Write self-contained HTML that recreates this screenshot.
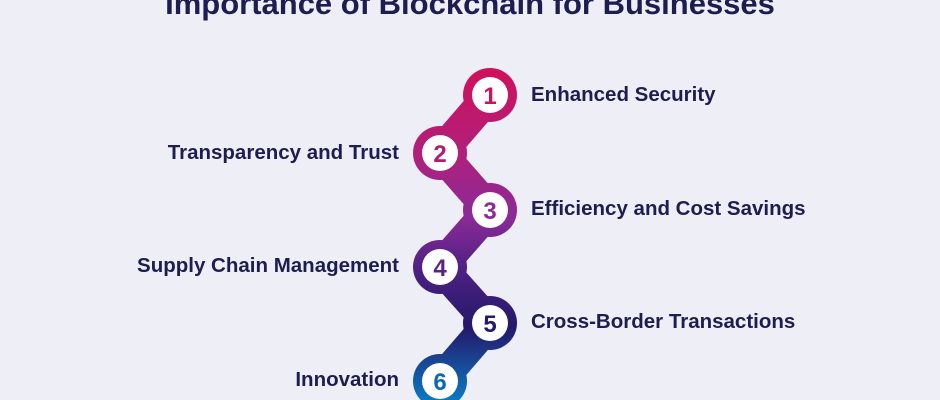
<!DOCTYPE html>
<html><head><style>
html,body{margin:0;padding:0}
body{width:940px;height:400px;background:#eeeef6;overflow:hidden;position:relative;font-family:"Liberation Sans",sans-serif}
.t{position:absolute;font-weight:bold;color:#1e1d4f;white-space:nowrap;font-size:20.5px}
</style></head><body>
<div class="t" style="left:0;width:940px;text-align:center;top:-14px;font-size:31px">Importance of Blockchain for Businesses</div>
<svg width="940" height="400" style="position:absolute;left:0;top:0">
<defs><linearGradient id="g" x1="0" y1="68" x2="0" y2="400" gradientUnits="userSpaceOnUse">
<stop offset="0" stop-color="#d0105a"/><stop offset="0.25" stop-color="#b0207a"/><stop offset="0.45" stop-color="#8a2a98"/><stop offset="0.62" stop-color="#4a2080"/><stop offset="0.78" stop-color="#25186a"/><stop offset="1" stop-color="#0a78c0"/></linearGradient></defs>
<g fill="url(#g)" stroke="url(#g)">
<path d="M490 95 L440 153 L490 210 L440 267 L490 323 L440 381" fill="none" stroke-width="32" stroke-linejoin="round"/>
<circle cx="490" cy="95" r="27" stroke="none"/><circle cx="440" cy="153" r="27" stroke="none"/>
<circle cx="490" cy="210" r="27" stroke="none"/><circle cx="440" cy="267" r="27" stroke="none"/>
<circle cx="490" cy="323" r="27" stroke="none"/><circle cx="440" cy="381" r="27" stroke="none"/>
</g>
<g fill="#fff"><circle cx="490" cy="95" r="18"/><circle cx="440" cy="153" r="18"/><circle cx="490" cy="210" r="18"/><circle cx="440" cy="267" r="18"/><circle cx="490" cy="323" r="18"/><circle cx="440" cy="381" r="18"/></g>
<g font-family="Liberation Sans,sans-serif" font-weight="bold" font-size="24" text-anchor="middle">
<text x="490" y="104" fill="#c8145e">1</text><text x="440" y="162" fill="#b01c76">2</text><text x="490" y="219" fill="#8c2a96">3</text><text x="440" y="276" fill="#5a2488">4</text><text x="490" y="332" fill="#28186a">5</text><text x="440" y="390" fill="#0e6aae">6</text>
</g>
</svg>
<div class="t" style="left:531px;top:83px">Enhanced Security</div>
<div class="t" style="right:541px;top:141px">Transparency and Trust</div>
<div class="t" style="left:531px;top:197px">Efficiency and Cost Savings</div>
<div class="t" style="right:541px;top:254px">Supply Chain Management</div>
<div class="t" style="left:531px;top:310px">Cross-Border Transactions</div>
<div class="t" style="right:541px;top:368px">Innovation</div>
</body></html>
